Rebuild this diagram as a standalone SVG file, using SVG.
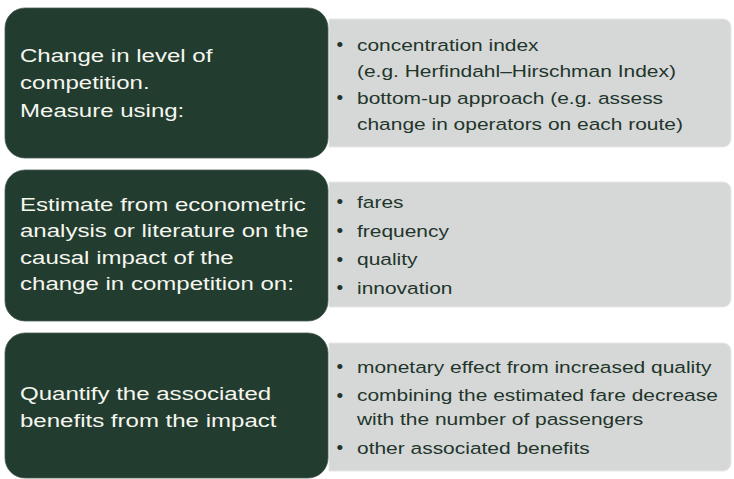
<svg xmlns="http://www.w3.org/2000/svg" width="734" height="479" viewBox="0 0 734 479">
  <style>
    .step { fill: #223d2f; stroke: #4a5d52; stroke-width: 0.8; }
    .detail { fill: #d6d8d7; stroke: #e6e7e6; stroke-width: 1; }
    .lbl { font-family: "Liberation Sans", Arial, sans-serif; font-size: 18.5px; fill: #f6f6ef; }
    .item { font-family: "Liberation Sans", Arial, sans-serif; font-size: 16.5px; fill: #22352b; }
    .dot { font-family: "Liberation Sans", Arial, sans-serif; font-size: 19px; fill: #22352b; }
  </style>
  <rect width="734" height="479" fill="#ffffff"/>

  <!-- Row 1: level of competition -->
  <g id="detail-competition">
    <path class="detail" d="M329 19 H723 A8 8 0 0 1 731 27 V139 A8 8 0 0 1 723 147 H329 Z"/>
    <text class="dot" x="336.5" y="51">•</text>
    <text class="dot" x="336.5" y="104">•</text>
    <g transform="translate(357 0) scale(1.27 1)">
      <text class="item" x="0" y="51">concentration index</text>
      <text class="item" x="0" y="77.5">(e.g. Herfindahl–Hirschman Index)</text>
      <text class="item" x="0" y="104">bottom-up approach (e.g. assess</text>
      <text class="item" x="0" y="130">change in operators on each route)</text>
    </g>
  </g>
  <g id="step-competition">
    <rect class="step" x="5" y="8" width="323" height="150" rx="20"/>
    <g transform="translate(20 0) scale(1.3 1)">
      <text class="lbl" x="0" y="62">Change in level of</text>
      <text class="lbl" x="0" y="89.5">competition.</text>
      <text class="lbl" x="0" y="117">Measure using:</text>
    </g>
  </g>

  <!-- Row 2: causal impact -->
  <g id="detail-impact">
    <path class="detail" d="M329 182 H723 A8 8 0 0 1 731 190 V299 A8 8 0 0 1 723 307 H329 Z"/>
    <text class="dot" x="336.5" y="208">•</text>
    <text class="dot" x="336.5" y="237">•</text>
    <text class="dot" x="336.5" y="265.5">•</text>
    <text class="dot" x="336.5" y="294">•</text>
    <g transform="translate(357 0) scale(1.27 1)">
      <text class="item" x="0" y="208">fares</text>
      <text class="item" x="0" y="237">frequency</text>
      <text class="item" x="0" y="265.5">quality</text>
      <text class="item" x="0" y="294">innovation</text>
    </g>
  </g>
  <g id="step-impact">
    <rect class="step" x="5" y="170" width="323" height="151" rx="20"/>
    <g transform="translate(20 0) scale(1.3 1)">
      <text class="lbl" x="0" y="211">Estimate from econometric</text>
      <text class="lbl" x="0" y="237.5">analysis or literature on the</text>
      <text class="lbl" x="0" y="264">causal impact of the</text>
      <text class="lbl" x="0" y="290.5">change in competition on:</text>
    </g>
  </g>

  <!-- Row 3: benefits -->
  <g id="detail-benefits">
    <path class="detail" d="M329 343 H723 A8 8 0 0 1 731 351 V463 A8 8 0 0 1 723 471 H329 Z"/>
    <text class="dot" x="336.5" y="373">•</text>
    <text class="dot" x="336.5" y="401.5">•</text>
    <text class="dot" x="336.5" y="454">•</text>
    <g transform="translate(357 0) scale(1.27 1)">
      <text class="item" x="0" y="373">monetary effect from increased quality</text>
      <text class="item" x="0" y="401.5">combining the estimated fare decrease</text>
      <text class="item" x="0" y="425.5">with the number of passengers</text>
      <text class="item" x="0" y="454">other associated benefits</text>
    </g>
  </g>
  <g id="step-benefits">
    <rect class="step" x="5" y="333" width="323" height="145" rx="20"/>
    <g transform="translate(20 0) scale(1.3 1)">
      <text class="lbl" x="0" y="400">Quantify the associated</text>
      <text class="lbl" x="0" y="427">benefits from the impact</text>
    </g>
  </g>
</svg>
